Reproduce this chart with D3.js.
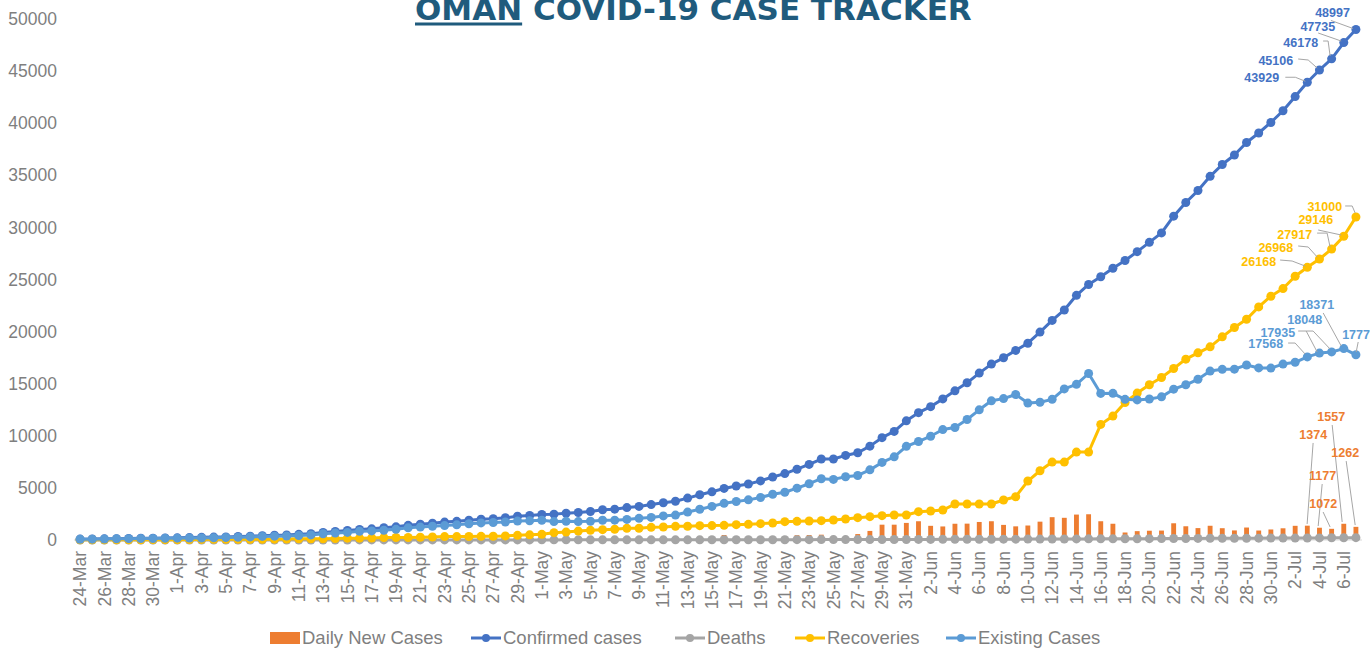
<!DOCTYPE html>
<html>
<head>
<meta charset="utf-8">
<script src="https://d3js.org/d3.v7.min.js"></script>
<style>
  html, body { margin: 0; padding: 0; background: #fff; }
  svg { display: block; }
</style>
</head>
<body>
<script>
// categories: one per day, 24-Mar .. 7-Jul
var dates = d3.timeDay.range(new Date(2020, 2, 24), new Date(2020, 6, 8));
var categories = dates.map(d3.timeFormat("%-d-%b"));

var confirmed = [
  84, 99, 109, 131, 152, 167, 179, 192, 210, 231,
  252, 277, 298, 331, 371, 419, 457, 484, 546, 599,
  727, 813, 910, 1019, 1069, 1180, 1266, 1410, 1508, 1614,
  1716, 1790, 1905, 1998, 2049, 2131, 2274, 2348, 2447, 2483,
  2568, 2637, 2735, 2903, 2958, 3112, 3224, 3399, 3573, 3721,
  4019, 4341, 4625, 4948, 5186, 5379, 5671, 6043, 6370, 6794,
  7257, 7770, 7770, 8118, 8373, 9009, 9820, 10423, 11437, 12223,
  12799, 13538, 14316, 15086, 16016, 16882, 17486, 18198, 18887, 19954,
  21071, 22077, 23481, 24524, 25269, 26079, 26818, 27670, 28566, 29471,
  31076, 32394, 33536, 34902, 36034, 36953, 38150, 39060, 40070, 41194,
  42555, 43929, 45106, 46178, 47735, 48997
];

var deaths = [
  0, 0, 0, 0, 0, 0, 0, 1, 1, 1,
  1, 1, 2, 2, 2, 2, 3, 3, 3, 3,
  4, 4, 4, 6, 6, 6, 7, 7, 8, 8,
  9, 10, 10, 10, 10, 10, 11, 11, 12, 12,
  13, 13, 13, 14, 15, 16, 17, 17, 17, 18,
  18, 18, 20, 22, 24, 25, 25, 27, 29, 32,
  35, 37, 37, 38, 40, 42, 42, 46, 50, 54,
  59, 63, 67, 70, 72, 75, 82, 83, 89, 89,
  96, 99, 104, 108, 111, 114, 119, 124, 130, 135,
  140, 144, 153, 157, 162, 167, 170, 176, 181, 182,
  186, 193, 203, 213, 218, 224
];

var recoveries = [
  17, 17, 17, 23, 23, 29, 34, 34, 34, 41,
  57, 61, 61, 61, 72, 72, 83, 97, 109, 109,
  124, 138, 176, 176, 192, 233, 238, 238, 260, 288,
  325, 325, 340, 350, 364, 390, 448, 495, 543, 703,
  757, 858, 927, 990, 1036, 1118, 1130, 1214, 1246, 1310,
  1320, 1374, 1380, 1406, 1470, 1502, 1566, 1630, 1757, 1789,
  1821, 1853, 1917, 2013, 2141, 2237, 2333, 2397, 2397, 2717,
  2780, 2876, 3451, 3451, 3451, 3451, 3835, 4155, 5657, 6645,
  7478, 7478, 8437, 8437, 11090, 11890, 13200, 14100, 14900, 15600,
  16460, 17354, 17960, 18535, 19494, 20390, 21189, 22370, 23394, 24130,
  25312, 26168, 26968, 27917, 29146, 31000
];

var existing = [
  67, 82, 92, 108, 129, 138, 145, 157, 175, 189,
  194, 215, 235, 268, 297, 345, 371, 384, 434, 487,
  599, 671, 730, 837, 871, 941, 1021, 1165, 1240, 1318,
  1382, 1455, 1555, 1638, 1675, 1731, 1815, 1842, 1892, 1768,
  1798, 1766, 1795, 1899, 1907, 1978, 2077, 2168, 2310, 2393,
  2681, 2949, 3225, 3520, 3692, 3852, 4080, 4386, 4584, 4973,
  5401, 5880, 5816, 6067, 6192, 6730, 7445, 7980, 8990, 9452,
  9960, 10599, 10798, 11565, 12493, 13356, 13569, 13960, 13141, 13220,
  13497, 14500, 14940, 15979, 14068, 14075, 13499, 13446, 13536, 13736,
  14476, 14896, 15423, 16210, 16378, 16396, 16791, 16514, 16495, 16882,
  17057, 17568, 17935, 18048, 18371, 17773
];

var dailyNew = [
  18, 15, 10, 22, 21, 15, 12, 13, 18, 21,
  21, 25, 21, 33, 40, 48, 38, 27, 62, 53,
  128, 86, 97, 109, 50, 111, 86, 144, 98, 106,
  102, 74, 115, 93, 51, 82, 143, 74, 99, 36,
  85, 69, 98, 168, 55, 154, 112, 175, 174, 148,
  298, 322, 284, 480, 238, 193, 292, 300, 327, 460,
  480, 510, 0, 348, 570, 870, 1470, 1470, 1640, 1800,
  1360, 1300, 1560, 1570, 1730, 1800, 1450, 1310, 1390, 1760,
  2190, 2130, 2440, 2470, 1800, 1560, 720, 850, 890, 905,
  1605, 1318, 1142, 1366, 1132, 919, 1197, 910, 1010, 1124,
  1361, 1374, 1177, 1072, 1557, 1262
];

var yTicks = [0, 5000, 10000, 15000, 20000, 25000, 30000, 35000, 40000, 45000, 50000];

var W = 1370, H = 652;
var greyText = "#7f7f7f";
var baseFont = "'Liberation Sans', Arial, sans-serif";

var svg = d3.select("body").append("svg").attr("width", W).attr("height", H);

var x = d3.scaleBand().domain(d3.range(categories.length)).range([74, 1362]).padding(0);
var y = d3.scaleLinear().domain([0, 50000]).range([540, 19]);
var cx = function (i) { return x(i) + x.bandwidth() / 2; };

// y axis labels (no axis line, no gridlines)
svg.append("g").selectAll("text").data(yTicks).enter().append("text")
  .attr("x", 57).attr("y", function (d) { return y(d); })
  .attr("dy", "0.35em")
  .attr("text-anchor", "end")
  .attr("fill", greyText)
  .style("font-family", baseFont).style("font-size", "17.5px")
  .text(function (d) { return d; });

// x axis baseline
svg.append("line").attr("x1", 74).attr("x2", 1362).attr("y1", y(0)).attr("y2", y(0))
  .attr("stroke", "#d9d9d9").attr("stroke-width", 1);

// x labels, every second day, rotated
svg.append("g").selectAll("text")
  .data(categories.map(function (c, i) { return {c: c, i: i}; }).filter(function (d) { return d.i % 2 === 0; }))
  .enter().append("text")
  .attr("transform", function (d) { return "translate(" + cx(d.i) + ",551) rotate(-90)"; })
  .attr("dy", "0.35em")
  .attr("text-anchor", "end")
  .attr("fill", greyText)
  .style("font-family", baseFont).style("font-size", "17.5px")
  .text(function (d) { return d.c; });

// daily new cases columns
var barW = x.bandwidth() / 2.5;
svg.append("g").selectAll("rect").data(dailyNew).enter().append("rect")
  .attr("x", function (d, i) { return cx(i) - barW / 2; })
  .attr("y", function (d) { return y(d); })
  .attr("width", barW)
  .attr("height", function (d) { return y(0) - y(d); })
  .attr("fill", "#ed7d31");

var series = [
  {name: "Confirmed cases", values: confirmed, color: "#4472c4"},
  {name: "Deaths", values: deaths, color: "#a5a5a5"},
  {name: "Recoveries", values: recoveries, color: "#ffc000"},
  {name: "Existing Cases", values: existing, color: "#5b9bd5"}
];

var line = d3.line().x(function (d, i) { return cx(i); }).y(function (d) { return y(d); });

series.forEach(function (s) {
  var g = svg.append("g");
  g.append("path").attr("d", line(s.values))
    .attr("fill", "none").attr("stroke", s.color).attr("stroke-width", 3)
    .attr("stroke-linejoin", "round");
  g.selectAll("circle").data(s.values).enter().append("circle")
    .attr("cx", function (d, i) { return cx(i); })
    .attr("cy", function (d) { return y(d); })
    .attr("r", 4.5)
    .attr("fill", s.color);
});

// data labels for the last days, with leader lines
var labelSets = [
  {values: confirmed, color: "#4472c4", marks: [
    {i: 105, tx: -6, ty: -12, path: [[-25, -9], [-3, -1]]},
    {i: 104, tx: -8.6, ty: -12, path: [[-25.6, -9.6], [-2.6, -1.6]]},
    {i: 103, tx: -13.5, ty: -11.8, path: [[-8.5, -17.8], [-3.5, -17.8], [-1.5, -2.8]]},
    {i: 102, tx: -26.3, ty: -5, path: [[-21.3, -11], [-11.3, -10], [-2.3, -2]]},
    {i: 101, tx: -28.2, ty: 0, path: [[-22, -5], [-12, -5], [-2, -1]]}
  ]},
  {values: recoveries, color: "#ffc000", marks: [
    {i: 105, tx: -13.75, ty: -6, path: [[-10.75, -11], [-3.75, -11], [-0.75, -4]]},
    {i: 104, tx: -10.6, ty: -12.3, path: [[-25.6, -6.3], [-2.6, -1.3]]},
    {i: 103, tx: -19.5, ty: -10, path: [[-14.5, -16], [-4.5, -16], [-1.5, -2]]},
    {i: 102, tx: -26.3, ty: -7, path: [[-21.3, -13], [-11.3, -12], [-2.3, -2]]},
    {i: 101, tx: -31.2, ty: -1.3, path: [[-27.2, -7.3], [-15.2, -6.3], [-2.2, -1.3]]}
  ]},
  {values: existing, color: "#5b9bd5", marks: [
    {i: 105, tx: -13.75, ty: -15.8, anchor: "start", path: [[2.25, -12.8], [0.25, -2.8]]},
    {i: 104, tx: -9.6, ty: -39.6, path: [[-20.6, -35.6], [-2.6, -2.6]]},
    {i: 103, tx: -9.5, ty: -27.9, path: [[-25.5, -20.9], [-18.5, -20.9], [-1.5, -2.9]]},
    {i: 102, tx: -24.3, ty: -16, path: [[-21.3, -22.1], [-13.3, -22.1], [-2.3, -1.1]]},
    {i: 101, tx: -24.2, ty: -8.6, path: [[-19.2, -13.9], [-12.2, -13.9], [-2.2, -2.9]]}
  ]},
  {values: dailyNew, color: "#ed7d31", marks: [
    {i: 104, tx: 1.4, ty: -102.3, path: [[-11.6, -98.8], [-1.6, -1.8]]},
    {i: 101, tx: 19.8, ty: -86.7, path: [[5.8, -82.7], [-0.2, -1.7]]},
    {i: 105, tx: 3.25, ty: -70.3, path: [[-9.75, -65.8], [-0.75, -1.8]]},
    {i: 102, tx: 16.7, ty: -47.7, path: [[2.7, -43.7], [-1.3, -1.7]]},
    {i: 103, tx: 5.5, ty: -20.8, path: [[-8.5, -16.8], [-1.5, -1.8]]}
  ]}
];

var labelG = svg.append("g");
labelSets.forEach(function (set) {
  set.marks.forEach(function (m) {
    var px = cx(m.i), py = y(set.values[m.i]);
    labelG.append("path")
      .attr("d", d3.line()(m.path.map(function (p) { return [px + p[0], py + p[1]]; })))
      .attr("fill", "none").attr("stroke", "#a6a6a6").attr("stroke-width", 1);
    labelG.append("text")
      .attr("x", px + m.tx).attr("y", py + m.ty)
      .attr("text-anchor", m.anchor || "end")
      .attr("fill", set.color)
      .style("font-family", baseFont)
      .style("font-weight", "bold").style("font-size", "12.5px")
      .text(set.values[m.i]);
  });
});

// title
var title = svg.append("text").attr("x", 415).attr("y", 20)
  .attr("fill", "#1f5b7d")
  .style("font-family", "'DejaVu Sans', sans-serif")
  .style("font-weight", "bold").style("font-size", "31px");
var tOman = title.append("tspan").text("OMAN");
title.append("tspan").text(" COVID-19 CASE TRACKER");
var omanW = tOman.node().getComputedTextLength();
svg.append("rect").attr("x", 415).attr("y", 22.5).attr("width", omanW).attr("height", 3).attr("fill", "#1f5b7d");

// legend
var legendItems = [
  {name: "Daily New Cases", color: "#ed7d31", type: "bar", x: 270},
  {name: "Confirmed cases", color: "#4472c4", type: "line", x: 471},
  {name: "Deaths", color: "#a5a5a5", type: "line", x: 675},
  {name: "Recoveries", color: "#ffc000", type: "line", x: 795},
  {name: "Existing Cases", color: "#5b9bd5", type: "line", x: 946}
];
var ly = 638;
var lg = svg.append("g");
legendItems.forEach(function (d) {
  if (d.type === "bar") {
    lg.append("rect").attr("x", d.x).attr("y", ly - 6).attr("width", 30).attr("height", 12).attr("fill", d.color);
  } else {
    lg.append("line").attr("x1", d.x).attr("x2", d.x + 30).attr("y1", ly).attr("y2", ly)
      .attr("stroke", d.color).attr("stroke-width", 3);
    lg.append("circle").attr("cx", d.x + 15).attr("cy", ly).attr("r", 4).attr("fill", d.color);
  }
  lg.append("text").attr("x", d.x + 32).attr("y", ly).attr("dy", "0.35em")
    .attr("fill", greyText)
    .style("font-family", baseFont).style("font-size", "18.5px")
    .text(d.name);
});
</script>
</body>
</html>
